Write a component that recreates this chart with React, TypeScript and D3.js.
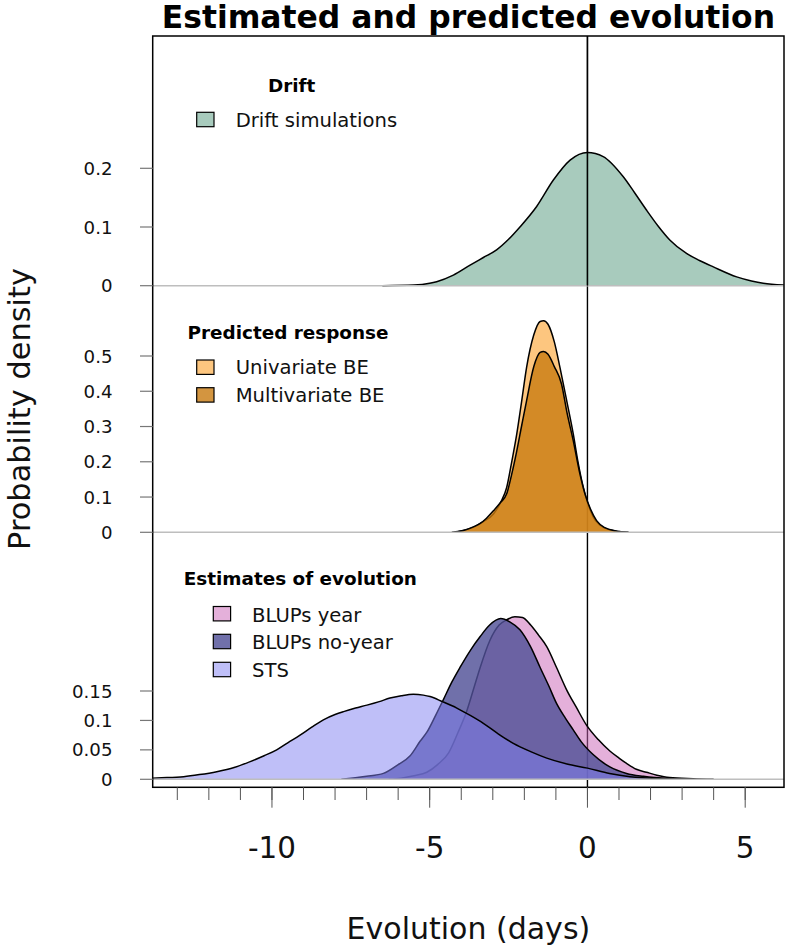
import React from "react";
import * as d3 from "d3";

// ---------- data (x in days, density) ----------
const driftX = [-6.5, -5.5, -5.0, -4.78, -4.25, -3.72, -3.3, -2.88, -2.5, -2.14, -1.61, -1.08, -0.55, 0, 0.5, 1.13, 1.5, 1.87, 2.25, 2.61, 3.14, 3.55, 3.99, 4.73, 5.2, 5.57, 6.2, 6.5];
const driftY = [0, 0.001, 0.004, 0.0068, 0.018, 0.035, 0.048, 0.061, 0.079, 0.1, 0.135, 0.18, 0.214, 0.227, 0.22, 0.186, 0.158, 0.129, 0.101, 0.078, 0.055, 0.043, 0.032, 0.015, 0.008, 0.004, 0.001, 0.0005];

const uniX = [-4.3, -4.1, -3.62, -3.3, -2.98, -2.75, -2.56, -2.4, -2.24, -2.08, -1.93, -1.7, -1.5, -1.39, -1.25, -1.05, -0.87, -0.65, -0.45, -0.3, -0.13, 0.02, 0.18, 0.4, 0.7, 1.0, 1.3];
const uniY = [0, 0.002, 0.014, 0.03, 0.052, 0.085, 0.127, 0.2, 0.279, 0.375, 0.467, 0.56, 0.598, 0.6, 0.59, 0.54, 0.467, 0.37, 0.279, 0.2, 0.127, 0.08, 0.044, 0.02, 0.007, 0.002, 0];

const multiX = [-4.2, -3.93, -3.6, -3.4, -3.2, -2.98, -2.75, -2.56, -2.4, -2.24, -2.08, -1.93, -1.7, -1.5, -1.39, -1.25, -1.05, -0.82, -0.65, -0.45, -0.25, -0.08, 0.1, 0.29, 0.55, 0.9, 1.3];
const multiY = [0, 0.005, 0.016, 0.025, 0.04, 0.061, 0.085, 0.109, 0.165, 0.231, 0.305, 0.373, 0.47, 0.51, 0.513, 0.505, 0.47, 0.42, 0.34, 0.26, 0.17, 0.109, 0.065, 0.033, 0.013, 0.004, 0];

const yearX = [-6.3, -5.9, -5.5, -5.09, -4.75, -4.4, -4.1, -3.85, -3.6, -3.4, -3.1, -2.8, -2.56, -2.3, -2.06, -1.8, -1.55, -1.29, -0.98, -0.66, -0.35, -0.03, 0.35, 0.71, 1.0, 1.24, 1.55, 1.87, 2.2, 2.6, 3.35, 4.0];
const yearY = [0, 0.002, 0.006, 0.012, 0.025, 0.045, 0.08, 0.112, 0.155, 0.19, 0.235, 0.262, 0.271, 0.276, 0.275, 0.262, 0.245, 0.2255, 0.19, 0.152, 0.122, 0.092, 0.067, 0.048, 0.036, 0.027, 0.017, 0.012, 0.007, 0.003, 0.001, 0];

const noYearX = [-7.8, -7.5, -7.0, -6.47, -6.0, -5.62, -5.3, -5.09, -4.8, -4.57, -4.3, -4.04, -3.7, -3.4, -3.1, -2.75, -2.45, -2.14, -1.8, -1.5, -1.22, -0.98, -0.7, -0.45, -0.2, 0.18, 0.71, 1.24, 1.77, 2.6, 3.2];
const noYearY = [0, 0.002, 0.005, 0.01, 0.025, 0.04, 0.065, 0.08, 0.11, 0.135, 0.165, 0.19, 0.22, 0.2425, 0.262, 0.273, 0.267, 0.254, 0.225, 0.19, 0.158, 0.129, 0.104, 0.084, 0.064, 0.042, 0.021, 0.01, 0.005, 0.001, 0];

const stsX = [-14.0, -13.5, -12.8, -12.3, -11.75, -11.2, -10.69, -10.25, -9.85, -9.5, -9.11, -8.75, -8.37, -8.0, -7.73, -7.35, -6.99, -6.6, -6.26, -5.9, -5.52, -5.2, -4.99, -4.6, -4.14, -3.7, -3.3, -2.85, -2.35, -1.8, -1.29, -0.65, 0.0, 0.7, 1.35, 1.9, 2.4, 3.0];
const stsY = [0.0015, 0.0025, 0.0045, 0.008, 0.013, 0.02, 0.03, 0.04, 0.05, 0.062, 0.075, 0.088, 0.101, 0.11, 0.115, 0.121, 0.126, 0.132, 0.138, 0.142, 0.1445, 0.143, 0.1405, 0.132, 0.121, 0.108, 0.095, 0.078, 0.061, 0.047, 0.036, 0.026, 0.019, 0.01, 0.0045, 0.002, 0.001, 0];

const topTicks = [0, 0.1, 0.2];
const midTicks = [0, 0.1, 0.2, 0.3, 0.4, 0.5];
const botTicks = [0, 0.05, 0.1, 0.15];
const xMajorTicks = [-10, -5, 0, 5];
const xMinorTicks = d3.range(-13, 6);

const FONT = "'DejaVu Sans', sans-serif";

export default function App() {
  const left = 152.7, right = 784, top = 36, bottom = 787.3;
  const x = d3.scaleLinear().domain([-13.78, 6.23]).range([left, right]);
  const yTop = d3.scaleLinear().domain([0, 0.1]).range([285.7, 227.0]);
  const yMid = d3.scaleLinear().domain([0, 0.5]).range([532.3, 356.0]);
  const yBot = d3.scaleLinear().domain([0, 0.15]).range([779.3, 691.0]);

  const series = [
    { xs: driftX, ys: driftY, y: yTop, fill: "rgba(81,151,123,0.5)" },
    { xs: uniX, ys: uniY, y: yMid, fill: "rgba(252,176,78,0.72)" },
    { xs: multiX, ys: multiY, y: yMid, fill: "rgba(200,122,16,0.8)" },
    { xs: yearX, ys: yearY, y: yBot, fill: "rgba(201,97,181,0.5)" },
    { xs: noYearX, ys: noYearY, y: yBot, fill: "rgba(80,80,151,0.815)" },
    { xs: stsX, ys: stsY, y: yBot, fill: "rgba(128,128,241,0.5)" },
  ];

  const paths = series.map((s) => {
    const pts: [number, number][] = s.xs.map((v, i) => [v, s.ys[i]]);
    const area = d3
      .area<[number, number]>()
      .x((d) => x(d[0]))
      .y0(s.y(0))
      .y1((d) => s.y(d[1]))
      .curve(d3.curveMonotoneX);
    const line = d3
      .line<[number, number]>()
      .x((d) => x(d[0]))
      .y((d) => s.y(d[1]))
      .curve(d3.curveMonotoneX);
    return { area: area(pts) || "", line: line(pts) || "", fill: s.fill };
  });

  const yAxes = [
    { ticks: topTicks, y: yTop },
    { ticks: midTicks, y: yMid },
    { ticks: botTicks, y: yBot },
  ];

  const legends = [
    {
      title: "Drift", tx: 291.7, ty: 92, sx: 196.7, lx: 235.7,
      items: [{ label: "Drift simulations", fill: series[0].fill, y: 112.3, base: 127.3 }],
    },
    {
      title: "Predicted response", tx: 288, ty: 339.3, sx: 196.7, lx: 235.7,
      items: [
        { label: "Univariate BE", fill: series[1].fill, y: 360, base: 374 },
        { label: "Multivariate BE", fill: series[2].fill, y: 387.7, base: 401.7 },
      ],
    },
    {
      title: "Estimates of evolution", tx: 300.3, ty: 585, sx: 213.3, lx: 252,
      items: [
        { label: "BLUPs year", fill: series[3].fill, y: 606.5, base: 621.5 },
        { label: "BLUPs no-year", fill: series[4].fill, y: 634.3, base: 649 },
        { label: "STS", fill: series[5].fill, y: 662.3, base: 676.5 },
      ],
    },
  ];

  return (
    <svg
      width={786}
      height={948}
      style={{ position: "absolute", left: 0, top: 0, background: "#fff" }}
      fontFamily={FONT}
    >
      <rect x={0} y={0} width={786} height={948} fill="#fff" />
      <defs>
        <clipPath id="plotclip">
          <rect x={left} y={top} width={right - left} height={bottom - top} />
        </clipPath>
      </defs>
      <g clipPath="url(#plotclip)">
        <line x1={x(0)} x2={x(0)} y1={top} y2={bottom} stroke="#000" strokeWidth={1.4} />
        {paths.map((p, i) => (
          <g key={i}>
            <path d={p.area} fill={p.fill} stroke="none" />
            <path d={p.line} fill="none" stroke="#000" strokeWidth={1.5} />
          </g>
        ))}
        {[yTop, yMid, yBot].map((s, i) => (
          <line key={i} x1={left} x2={right} y1={s(0)} y2={s(0)} stroke="#bebebe" strokeWidth={1.5} />
        ))}
        <line x1={x(0)} x2={x(0)} y1={top} y2={285.7} stroke="#000" strokeWidth={1.4} />
      </g>
      <rect x={left} y={top} width={right - left} height={bottom - top} fill="none" stroke="#000" strokeWidth={1.5} />

      {/* y axes */}
      {yAxes.map((a, i) => (
        <g key={i}>
          {a.ticks.map((t) => (
            <g key={t}>
              <line x1={140} x2={left} y1={a.y(t)} y2={a.y(t)} stroke="#777" strokeWidth={1.2} />
              <text x={112.5} y={a.y(t) + 6.6} textAnchor="end" fontSize={18.2} fill="#111">
                {String(t)}
              </text>
            </g>
          ))}
        </g>
      ))}

      {/* x axis */}
      {xMinorTicks.map((t) => (
        <line key={"m" + t} x1={x(t)} x2={x(t)} y1={bottom} y2={800} stroke="#555" strokeWidth={1} />
      ))}
      {xMajorTicks.map((t) => (
        <g key={"M" + t}>
          <line x1={x(t)} x2={x(t)} y1={bottom} y2={807.7} stroke="#555" strokeWidth={1} />
          <text x={x(t)} y={858} textAnchor="middle" fontSize={29.4} fill="#111">
            {String(t)}
          </text>
        </g>
      ))}

      {/* legends */}
      {legends.map((lg, i) => (
        <g key={i}>
          <text x={lg.tx} y={lg.ty} textAnchor="middle" fontWeight="bold" fontSize={18.4} fill="#000">
            {lg.title}
          </text>
          {lg.items.map((it) => (
            <g key={it.label}>
              <rect x={lg.sx} y={it.y} width={17.3} height={14.4} fill="#fff" />
              <rect x={lg.sx} y={it.y} width={17.3} height={14.4} fill={it.fill} stroke="#000" strokeWidth={1.2} />
              <text x={lg.lx} y={it.base} fontSize={19.6} fill="#111">
                {it.label}
              </text>
            </g>
          ))}
        </g>
      ))}

      {/* titles */}
      <text x={468.4} y={28} textAnchor="middle" fontWeight="bold" fontSize={31.4} fill="#000">
        Estimated and predicted evolution
      </text>
      <text x={468.4} y={939} textAnchor="middle" fontSize={30} fill="#111">
        Evolution (days)
      </text>
      <text transform="translate(30,409) rotate(-90)" textAnchor="middle" fontSize={30.4} fill="#111">
        Probability density
      </text>
    </svg>
  );
}
